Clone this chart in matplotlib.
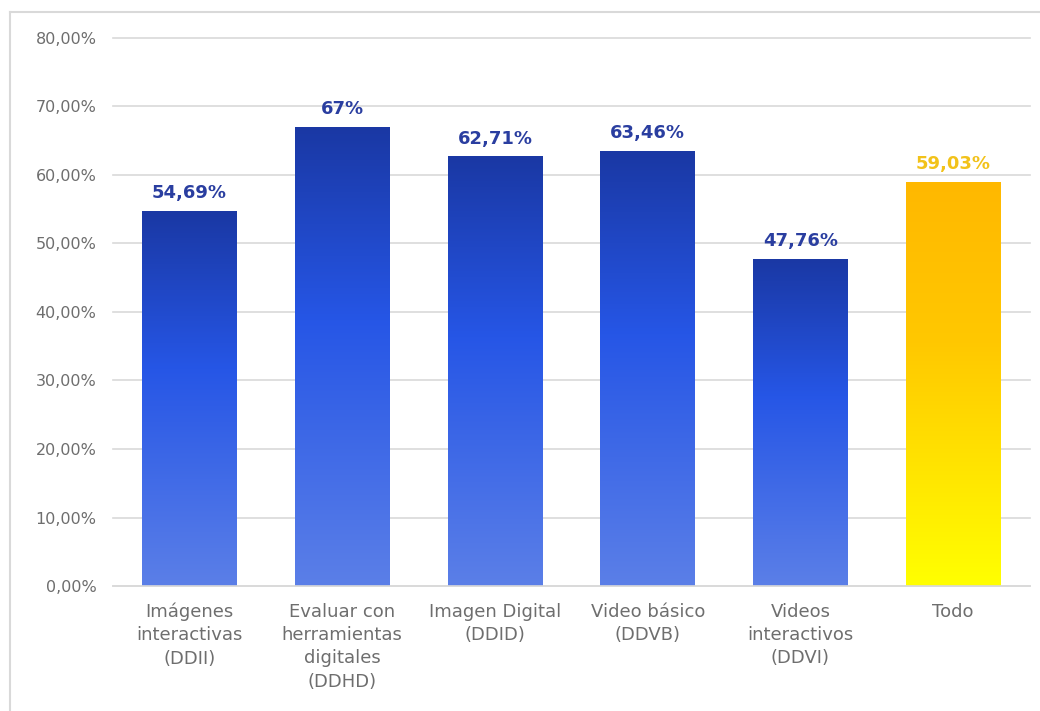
import matplotlib
matplotlib.use("Agg")
import matplotlib.pyplot as plt
import numpy as np
from matplotlib.colors import LinearSegmentedColormap
from matplotlib.lines import Line2D

categories = [
    "Imágenes\ninteractivas\n(DDII)",
    "Evaluar con\nherramientas\ndigitales\n(DDHD)",
    "Imagen Digital\n(DDID)",
    "Video básico\n(DDVB)",
    "Videos\ninteractivos\n(DDVI)",
    "Todo",
]
values = [54.69, 67.0, 62.71, 63.46, 47.76, 59.03]
value_labels = ["54,69%", "67%", "62,71%", "63,46%", "47,76%", "59,03%"]
yticks = [0, 10, 20, 30, 40, 50, 60, 70, 80]
ytick_labels = ["0,00%", "10,00%", "20,00%", "30,00%", "40,00%", "50,00%",
                "60,00%", "70,00%", "80,00%"]

plt.rcParams['font.family'] = ['DejaVu Sans']

blue_cmap = LinearSegmentedColormap.from_list(
    "blue_grad", [(0.0, "#5b7fe8"), (0.58, "#2656e6"), (1.0, "#1a38a4")])
gold_cmap = LinearSegmentedColormap.from_list(
    "gold_grad", [(0.0, "#ffff00"), (0.6, "#ffc800"), (1.0, "#ffb800")])

fig = plt.figure(figsize=(10.4, 7.11), dpi=100)
ax = fig.add_axes([0.1087, 0.1758, 0.8813, 0.7708])

x = np.arange(len(categories))
width = 0.62
bars = ax.bar(x, values, width=width, color="none", edgecolor="none", zorder=2)

grad = np.linspace(0, 1, 256).reshape(-1, 1)
for i, (bar, v) in enumerate(zip(bars, values)):
    cmap = gold_cmap if i == len(values) - 1 else blue_cmap
    x0 = bar.get_x()
    im = ax.imshow(grad, cmap=cmap, origin="lower", aspect="auto",
                   extent=[x0, x0 + width, 0, v], zorder=2)
    im.set_clip_path(bar)
    color = "#f2c21a" if i == len(values) - 1 else "#2a3ea0"
    ax.text(bar.get_x() + width / 2, v + 1.3, value_labels[i], ha="center",
            va="bottom", fontsize=13, fontweight="bold", color=color)

ax.set_xlim(-0.5, len(categories) - 0.5)
ax.set_ylim(0, 80)
ax.set_yticks(yticks)
ax.set_yticklabels(ytick_labels, fontsize=11.5, color="#6e6e6e")
ax.set_xticks(x)
ax.set_xticklabels(categories, fontsize=13, color="#6e6e6e", linespacing=1.38)
ax.tick_params(axis="both", length=0)
ax.tick_params(axis="y", pad=12)
ax.tick_params(axis="x", pad=12)
ax.grid(axis="y", color="#d9d9d9", linewidth=1.2, zorder=0)
for gl in ax.yaxis.get_gridlines():
    gl.set_clip_on(False)
ax.set_axisbelow(True)
for s in ["top", "right", "left"]:
    ax.spines[s].set_visible(False)
ax.spines["bottom"].set_color("#d9d9d9")
ax.spines["bottom"].set_linewidth(1.2)

# light frame around the chart area
fig.add_artist(Line2D([10 / 1040, 10 / 1040], [0, 1 - 12 / 711],
                      transform=fig.transFigure, color="#d9d9d9", lw=1.5))
fig.add_artist(Line2D([10 / 1040, 1], [1 - 12 / 711, 1 - 12 / 711],
                      transform=fig.transFigure, color="#d9d9d9", lw=1.5))

fig.savefig("out.png", dpi=100, facecolor="white")
